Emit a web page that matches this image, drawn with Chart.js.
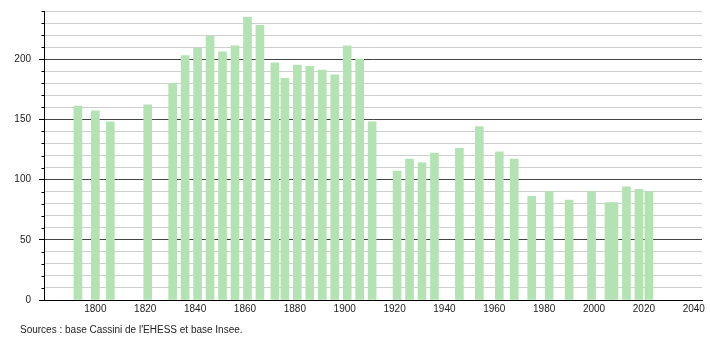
<!DOCTYPE html>
<html>
<head>
<meta charset="utf-8">
<title>Population</title>
<script src="https://cdn.jsdelivr.net/npm/chart.js@4.4.1/dist/chart.umd.min.js"></script>
<style>
    body{
        margin:0;
        background:#fff;
    }
    #wrap{
        position:relative;
        width:710px;
        height:340px;
    }
    #source{
        position:absolute;
        left:20px;
        top:324px;
        font:10px "Liberation Sans",Arial,sans-serif;
        color:#222;
        white-space:nowrap;
    }
</style>
</head>
<body>

<div id="wrap">
    <canvas id="chart" width="710" height="340"></canvas>
    <div id="source">Sources : base Cassini de l'EHESS et base Insee.</div>
</div>

<script>

const years=[
    1793,1800,1806,1821,1831,1836,1841,1846,1851,1856,1861,1866,
    1872,1876,1881,1886,1891,1896,1901,1906,1911,
    1921,1926,1931,1936,1946,1954,1962,1968,
    1975,1982,1990,1999,2006,2008,2013,2018,2022
];

const population=[
    161,157,148,162,180,203,209,219,206,211,235,228,
    197,184,195,194,191,187,211,200,148,
    107,117,114,122,126,144,123,117,
    86,90,83,90,81,81,94,92,90
];

const xTickStep=20;
const yTickStep=10;
const yMajorStep=50;

const fontName='"Liberation Sans", Arial, sans-serif';

// short ticks on the y axis for the minor grid lines
const minorTicks={
    id:"minorTicks",
    afterDraw(chart){
        const scale=chart.scales.y;
        const ctx=chart.ctx;
        ctx.save();
        ctx.strokeStyle="#000";
        ctx.lineWidth=1;
        scale.ticks.forEach(t=>{
            if(t.value%yMajorStep===0) return;
            const y=Math.round(scale.getPixelForValue(t.value))+0.5;
            ctx.beginPath();
            ctx.moveTo(scale.right-2.5,y);
            ctx.lineTo(scale.right,y);
            ctx.stroke();
        });
        ctx.restore();
    }
};

new Chart(document.getElementById("chart"),{

    type:"bar",

    data:{
        datasets:[{
            data:years.map((y,i)=>({x:y,y:population[i]})),
            backgroundColor:"#b3e3b3",
            borderWidth:0,
            barThickness:8
        }]
    },

    options:{
        responsive:false,
        animation:false,
        events:[],
        layout:{
            padding:{left:0,top:11,right:8,bottom:0}
        },
        plugins:{
            legend:{display:false},
            tooltip:{enabled:false}
        },
        scales:{
            x:{
                type:"linear",
                offset:false,
                min:1779.4,
                max:2043.3,
                afterFit(scale){
                    scale.height=40;
                    scale.paddingLeft=0;
                    scale.paddingRight=0;
                },
                grid:{display:false,drawTicks:false,offset:false},
                border:{color:"#000",width:1},
                ticks:{
                    stepSize:xTickStep,
                    includeBounds:false,
                    autoSkip:false,
                    maxRotation:0,
                    padding:3,
                    color:"#222",
                    font:{family:fontName,size:10},
                    callback:v=>v>=1800?String(v):""
                }
            },
            y:{
                min:0,
                max:240,
                afterFit(scale){
                    scale.width=44;
                    scale.paddingTop=0;
                    scale.paddingBottom=0;
                },
                border:{color:"#000",width:1},
                grid:{
                    tickLength:5,
                    color:c=>c.tick&&c.tick.value%yMajorStep===0?"#444":"#cfcfcf",
                    tickColor:c=>c.tick&&c.tick.value%yMajorStep===0?"#000":"rgba(0,0,0,0)"
                },
                ticks:{
                    stepSize:yTickStep,
                    maxTicksLimit:100,
                    autoSkip:false,
                    padding:8,
                    color:"#222",
                    font:{family:fontName,size:10},
                    callback:v=>v%yMajorStep===0?String(v):""
                }
            }
        }
    },

    plugins:[minorTicks]

});

</script>
</body>
</html>
